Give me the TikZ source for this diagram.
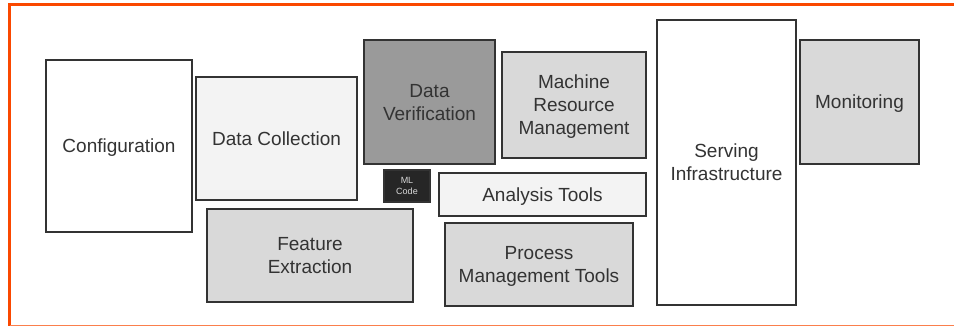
\documentclass[tikz,border=0pt]{standalone}
\usepackage{fontspec}
\setmainfont{Liberation Sans}
\usepackage{xcolor}
\definecolor{frameorange}{RGB}{250,72,0}
\definecolor{boxline}{HTML}{333333}
\definecolor{paler}{HTML}{F3F3F3}
\definecolor{midgray}{HTML}{D9D9D9}
\definecolor{darkgray}{HTML}{9A9A9A}
\definecolor{codegray}{HTML}{262626}

\begin{document}
\begin{tikzpicture}[x=1pt, y=-1pt,
    part/.style={draw=boxline, line width=2pt, rectangle, inner sep=0pt, align=center,
        text depth=0pt, text=boxline, font=\fontsize{19}{23}\selectfont},
    mlcode/.style={part, fill=codegray, text=white!85!black, font=\fontsize{9}{10.5}\selectfont}]
    \useasboundingbox (0,0) rectangle (954,326);
    \fill[white] (0,0) rectangle (954,326);
    \draw[frameorange, line width=3pt] (954,4.3) -- (9.5,4.3) -- (9.5,326);
    \draw[frameorange!70, line width=1pt] (9.5,325.5) -- (954,325.5);

    \node[part, fill=white, minimum width=146pt, minimum height=172pt] (config) at (119,146) {Configuration};
    \node[part, fill=paler, minimum width=161pt, minimum height=123pt] (collect) at (276.5,138.5) {Data Collection};
    \node[part, fill=midgray, minimum width=206pt, minimum height=93pt] (feature) at (310,255.5) {Feature\\Extraction};
    \node[part, fill=darkgray, minimum width=131pt, minimum height=124pt] (verify) at (429.5,102) {Data\\Verification};
    \node[part, fill=midgray, minimum width=144pt, minimum height=106pt] (resource) at (574,105) {Machine\\Resource\\Management};
    \node[mlcode, minimum width=46pt, minimum height=32pt] (ml) at (407,186) {ML\\Code};
    \node[part, fill=paler, minimum width=207pt, minimum height=43pt] (analysis) at (542.5,194.5) {Analysis Tools};
    \node[part, fill=midgray, minimum width=188pt, minimum height=83pt] (process) at (539,264.5) {Process\\Management Tools};
    \node[part, fill=white, minimum width=139pt, minimum height=285pt] (serving) at (726.5,162.5) {Serving\\Infrastructure};
    \node[part, fill=midgray, minimum width=119pt, minimum height=124pt] (monitor) at (859.5,102) {Monitoring};
\end{tikzpicture}
\end{document}
